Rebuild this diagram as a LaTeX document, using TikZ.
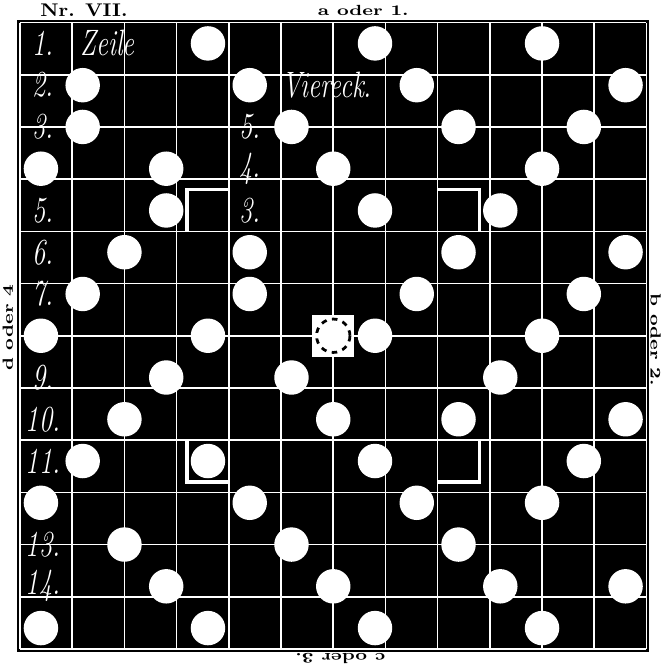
\documentclass[tikz,border=0pt]{standalone}
\usepackage{tikz}

\tikzset{
    stone/.style={circle,fill=white,inner sep=0pt,minimum size=0.66cm},
    rowlab/.style={white,font=\itshape\fontsize{20}{20}\selectfont,xscale=0.72},
    sidelab/.style={font=\bfseries\fontsize{8}{8}\selectfont,xscale=1.3},
    corner/.style={white,line width=1.8pt,line cap=square}
}

\begin{document}
\begin{tikzpicture}[x=0.8cm,y=0.8cm]
    \useasboundingbox (-0.48,-0.48) rectangle (15.36,15.54);

    % board
    \fill[black] (-0.07,-0.07) rectangle (15.07,15.07);
    \draw[white, line width=0.9pt] (0,0) grid (15,15);

    % centre field
    \fill[white] (7,7) rectangle (8,8);
    \node[circle, draw, dashed, line width=1.5pt, inner sep=0pt,
        minimum size=0.64cm] (mid) at (7.5,7.5) {};

    % corners of the Viereck
    \draw[corner] (4,10) -- (4,11) -- (5,11);
    \draw[corner] (10,11) -- (11,11) -- (11,10);
    \draw[corner] (4,5) -- (4,4) -- (5,4);
    \draw[corner] (10,4) -- (11,4) -- (11,5);

    % stones, row by row
    \foreach \c in {4,8,12}    \node[stone] (s1-\c)  at (\c+0.5,14.5) {};
    \foreach \c in {1,5,9,14}  \node[stone] (s2-\c)  at (\c+0.5,13.5) {};
    \foreach \c in {1,6,10,13} \node[stone] (s3-\c)  at (\c+0.5,12.5) {};
    \foreach \c in {0,3,7,12}  \node[stone] (s4-\c)  at (\c+0.5,11.5) {};
    \foreach \c in {3,8,11}    \node[stone] (s5-\c)  at (\c+0.5,10.5) {};
    \foreach \c in {2,5,10,14} \node[stone] (s6-\c)  at (\c+0.5,9.5) {};
    \foreach \c in {1,5,9,13}  \node[stone] (s7-\c)  at (\c+0.5,8.5) {};
    \foreach \c in {0,4,8,12}  \node[stone] (s8-\c)  at (\c+0.5,7.5) {};
    \foreach \c in {3,6,11}    \node[stone] (s9-\c)  at (\c+0.5,6.5) {};
    \foreach \c in {2,7,10,14} \node[stone] (s10-\c) at (\c+0.5,5.5) {};
    \foreach \c in {1,4,8,13}  \node[stone] (s11-\c) at (\c+0.5,4.5) {};
    \foreach \c in {0,5,9,12}  \node[stone] (s12-\c) at (\c+0.5,3.5) {};
    \foreach \c in {2,6,10}    \node[stone] (s13-\c) at (\c+0.5,2.5) {};
    \foreach \c in {3,7,11,14} \node[stone] (s14-\c) at (\c+0.5,1.5) {};
    \foreach \c in {0,4,8,12}  \node[stone] (s15-\c) at (\c+0.5,0.5) {};

    % handwritten labels
    \node[rowlab] (z1)  at (0.55,14.5) {1.};
    \node[rowlab] (z2)  at (0.55,13.5) {2.};
    \node[rowlab] (z3)  at (0.55,12.5) {3.};
    \node[rowlab] (z5)  at (0.55,10.5) {5.};
    \node[rowlab] (z6)  at (0.55,9.5) {6.};
    \node[rowlab] (z7)  at (0.55,8.5) {7.};
    \node[rowlab] (z9)  at (0.55,6.5) {9.};
    \node[rowlab] (z10) at (0.55,5.5) {10.};
    \node[rowlab] (z11) at (0.55,4.5) {11.};
    \node[rowlab] (z13) at (0.55,2.5) {13.};
    \node[rowlab] (z14) at (0.55,1.5) {14.};
    \node[rowlab] (zeile) at (2.1,14.5) {Zeile};
    \node[rowlab] (viereck) at (7.35,13.5) {Viereck.};
    \node[rowlab] (v5) at (5.5,12.5) {5.};
    \node[rowlab] (v4) at (5.5,11.5) {4.};
    \node[rowlab] (v3) at (5.5,10.5) {3.};

    % titles round the board
    \node[sidelab, font=\bfseries\fontsize{10}{10}\selectfont, xscale=0.85]
        (nr) at (1.53,15.3) {Nr. VII.};
    \node[sidelab] (sa) at (8.22,15.29) {a oder 1.};
    \node[rotate=-90, sidelab] (sb) at (15.22,7.4) {b oder 2.};
    \node[rotate=180, sidelab] (sc) at (7.67,-0.22) {c oder 3.};
    \node[rotate=90, sidelab] (sd) at (-0.29,7.69) {d oder 4};
\end{tikzpicture}
\end{document}
